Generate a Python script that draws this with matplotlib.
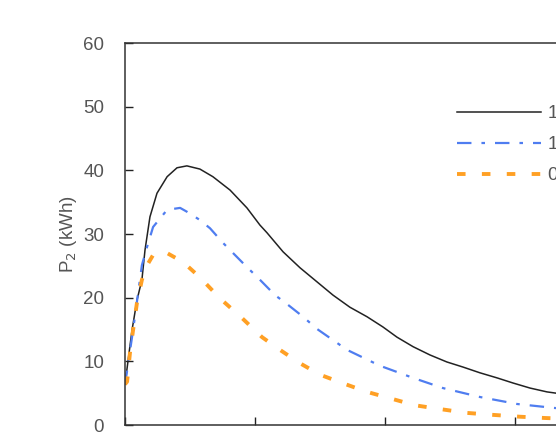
import matplotlib
matplotlib.use("Agg")
import matplotlib.pyplot as plt

plt.rcParams['font.family'] = ['Liberation Sans', 'DejaVu Sans']

# time axis (h) and power values
x_black = [0, 0.27, 0.46, 0.65, 0.77, 0.96, 1.23, 1.62, 2.0, 2.38, 2.88, 3.38, 4.04, 4.69,
           5.19, 5.46, 6.08, 6.73, 7.38, 8.0, 8.65, 9.31, 9.92, 10.46, 11.08, 11.73, 12.38,
           13.0, 13.65, 14.31, 14.92, 15.58, 16.23, 16.58, 17.5, 18.5, 20.0]
y_black = [6.4, 14.9, 19.6, 22.8, 27.5, 32.7, 36.4, 39.0, 40.4, 40.7, 40.2, 39.0, 36.9, 34.1,
           31.4, 30.2, 27.2, 24.7, 22.5, 20.4, 18.5, 17.0, 15.4, 13.8, 12.3, 11.0, 9.9,
           9.1, 8.2, 7.4, 6.6, 5.8, 5.2, 5.0, 4.5, 4.0, 3.4]

x_blue = [0, 0.31, 0.65, 0.85, 1.08, 1.62, 2.12, 2.38, 2.88, 3.27, 3.77, 4.23, 4.69, 5.12,
          5.77, 6.23, 6.85, 7.38, 8.54, 9.81, 11.08, 12.23, 13.65, 15.08, 16.46, 17.5, 18.5, 20.0]
y_blue = [6.3, 14.9, 25.1, 28.0, 31.1, 33.8, 34.1, 33.5, 32.2, 30.9, 28.6, 26.7, 24.8, 23.1,
          20.4, 19.0, 17.0, 15.1, 11.8, 9.3, 7.4, 5.8, 4.4, 3.3, 2.7, 2.3, 2.0, 1.6]

x_orange = [0, 0.08, 0.19, 0.31, 0.46, 0.65, 0.85, 1.08, 1.35, 1.62, 2.23, 2.88, 3.65, 4.5,
            5.27, 5.96, 6.73, 7.5, 8.35, 9.31, 10.19, 11.15, 12.12, 13.15, 14.12, 15.19,
            16.15, 17.5, 18.5, 20.0]
y_orange = [6.4, 6.8, 11.3, 14.9, 19.2, 22.8, 25.1, 26.7, 27.2, 27.0, 25.6, 23.2, 19.9, 16.8,
            13.8, 11.8, 9.7, 7.9, 6.6, 5.2, 4.2, 3.1, 2.5, 1.9, 1.6, 1.3,
            1.1, 0.9, 0.8, 0.7]

labels = ["1.2", "1.0", "0.8"]
x_ticks = [0, 5, 10, 15, 20]
y_ticks = [0, 10, 20, 30, 40, 50, 60]

fig = plt.figure(figsize=(5.56, 4.34), dpi=100)
ax = fig.add_axes([125/556, 9/434, 520/556, 382/434])

text_c = '#555555'
fs = 13.5
ax.plot(x_black, y_black, color='#222222', lw=1.1, label=labels[0])
ax.plot(x_blue, y_blue, color='#4f7df0', lw=1.6, linestyle=(0, (6.5, 4.5, 1.6, 4.5)), label=labels[1])
ax.plot(x_orange, y_orange, color='#ffa024', lw=2.8, linestyle=(0, (2.2, 4.2)), label=labels[2])

ax.set_xlim(0, 20)
ax.set_ylim(0, 60)
ax.set_xticks(x_ticks)
ax.set_yticks(y_ticks)
ax.tick_params(direction='in', length=6, width=1.0, colors='#222222', labelcolor=text_c,
               labelsize=fs, pad=15)
for s in ax.spines.values():
    s.set_linewidth(1.1)
    s.set_color('#333333')
ax.set_xlabel('Time (h)', color=text_c, fontsize=fs)
ax.set_ylabel('P$_2$ (kWh)', color=text_c, fontsize=fs, labelpad=3)

leg = ax.legend(loc='upper left', bbox_to_anchor=(457/556, (434-105)/434),
                bbox_transform=fig.transFigure, frameon=False, fontsize=fs,
                handlelength=4.5, handletextpad=0.32, labelspacing=0.74, borderpad=0,
                borderaxespad=0)
for t in leg.get_texts():
    t.set_color(text_c)

fig.savefig('out.png', dpi=100)
